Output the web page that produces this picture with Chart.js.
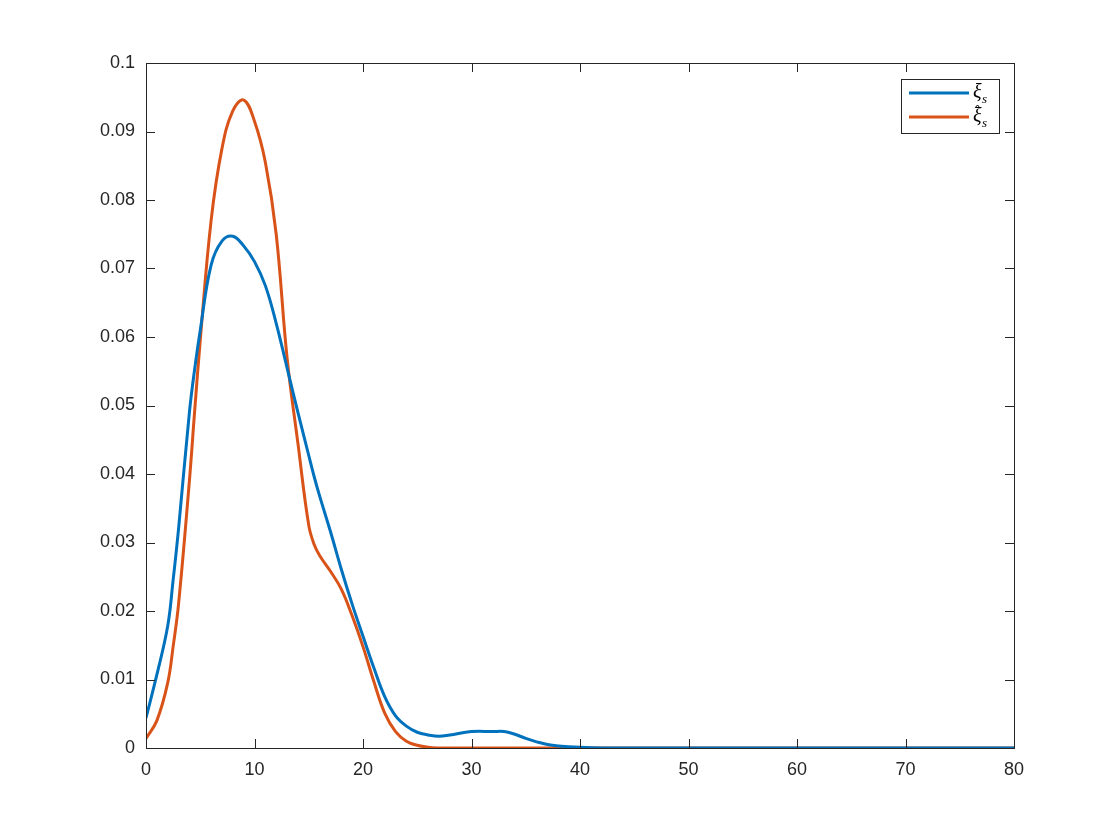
<!DOCTYPE html>
<html>
<head>
<meta charset="utf-8">
<script src="https://cdn.jsdelivr.net/npm/chart.js@4.4.0/dist/chart.umd.min.js"></script>
<style>
html,body{margin:0;padding:0;background:#fff;}
#wrap{width:1120px;height:840px;}
</style>
</head>
<body>
<div id="wrap"><canvas id="grafico" width="1120" height="840"></canvas></div>
<script>
// valori
var xs     = [0, 1, 2, 2.5, 3, 4, 4.5, 5, 6, 7, 8, 9, 10, 11, 12, 13, 14, 15, 15.5, 16, 17, 18, 19, 20, 21, 22, 23, 24, 25, 26, 27, 28, 30, 32, 33, 34, 35, 36, 37, 38, 40, 42, 45, 50, 60, 70, 80];
var xiS    = [0.0044, 0.0107, 0.0178, 0.0245, 0.032, 0.049, 0.0555, 0.061, 0.0705, 0.074, 0.0747, 0.0733, 0.071, 0.0675, 0.062, 0.0555, 0.049, 0.0427, 0.0396, 0.0368, 0.0316, 0.0261, 0.021, 0.0163, 0.0117, 0.0075, 0.0047, 0.0032, 0.0023, 0.0019, 0.0017, 0.0019, 0.0024, 0.0024, 0.0024, 0.002, 0.0014, 0.0009, 0.0005, 0.0003, 0.0001, 0, 0, 0, 0, 0, 0];
var xiHatS = [0.0014, 0.004, 0.0095, 0.0148, 0.021, 0.039, 0.0495, 0.0595, 0.077, 0.0875, 0.093, 0.0946, 0.0915, 0.0855, 0.075, 0.057, 0.0445, 0.0325, 0.0297, 0.0281, 0.0258, 0.0232, 0.0193, 0.0148, 0.0097, 0.0051, 0.0024, 0.001, 0.0004, 0.0001, 0, 0, 0, 0, 0, 0, 0, 0, 0, 0, 0, 0, 0, 0, 0, 0, 0];
var xTicks = [0, 10, 20, 30, 40, 50, 60, 70, 80];
var yTicks = [0, 0.01, 0.02, 0.03, 0.04, 0.05, 0.06, 0.07, 0.08, 0.09, 0.1];

var blu = "#0072BD";
var arancio = "#D95319";

function punti(ys) {
    var out = [];
    for (var i = 0; i < xs.length; i++) {
        out.push({x: xs[i], y: ys[i]});
    }
    return out;
}

// cornice, tacche interne e legenda stile matlab
var cornice = {
    id: "cornice",
    afterDraw: function (chart) {
        var ctx = chart.ctx;
        var a = chart.chartArea;
        var sx = chart.scales.x, sy = chart.scales.y;
        ctx.save();
        ctx.strokeStyle = "#262626";
        ctx.lineWidth = 1;
        ctx.strokeRect(a.left + 0.5, a.top + 0.5, a.right - a.left, a.bottom - a.top);
        ctx.beginPath();
        for (var i = 0; i < xTicks.length; i++) {
            var px = Math.round(sx.getPixelForValue(xTicks[i])) + 0.5;
            ctx.moveTo(px, a.bottom); ctx.lineTo(px, a.bottom - 9);
            ctx.moveTo(px, a.top); ctx.lineTo(px, a.top + 9);
        }
        for (var j = 0; j < yTicks.length; j++) {
            var py = Math.round(sy.getPixelForValue(yTicks[j])) + 0.5;
            ctx.moveTo(a.left, py); ctx.lineTo(a.left + 9, py);
            ctx.moveTo(a.right, py); ctx.lineTo(a.right - 9, py);
        }
        ctx.stroke();

        // legenda
        var bx = 901, by = 79, bw = 98, bh = 54;
        ctx.fillStyle = "#fff";
        ctx.fillRect(bx, by, bw, bh);
        ctx.strokeStyle = "#262626";
        ctx.strokeRect(bx + 0.5, by + 0.5, bw, bh);
        var righe = [93, 117];
        chart.data.datasets.forEach(function (ds, k) {
            ctx.strokeStyle = ds.borderColor;
            ctx.lineWidth = 3;
            ctx.beginPath();
            ctx.moveTo(909, righe[k]); ctx.lineTo(969, righe[k]);
            ctx.stroke();
            ctx.fillStyle = "#000";
            ctx.textBaseline = "alphabetic";
            ctx.font = "italic 20px 'Liberation Serif', 'DejaVu Serif', serif";
            ctx.fillText("\u03BE", 973, righe[k] + 5);
            ctx.font = "italic 13px 'Liberation Serif', serif";
            ctx.fillText("s", 982, righe[k] + 10);
            if (k == 1) {
                // cappello
                ctx.strokeStyle = "#000";
                ctx.lineWidth = 1;
                ctx.beginPath();
                ctx.moveTo(975, righe[k] - 9);
                ctx.lineTo(977.5, righe[k] - 12);
                ctx.lineTo(980, righe[k] - 9);
                ctx.stroke();
            }
        });
        ctx.restore();
    }
};

var ctx = document.getElementById("grafico");
var grafico = new Chart(ctx, {
    type: "line",
    data: {
        datasets: [{
            label: "\u03BEs",
            data: punti(xiS),
            borderColor: blu,
            backgroundColor: blu,
            borderWidth: 3,
            pointRadius: 0,
            tension: 0.4,
            fill: false
        }, {
            label: "\u03BEs hat",
            data: punti(xiHatS),
            borderColor: arancio,
            backgroundColor: arancio,
            borderWidth: 3,
            pointRadius: 0,
            tension: 0.4,
            fill: false
        }]
    },
    options: {
        responsive: false,
        animation: false,
        layout: {padding: {left: 0, top: 63, right: 106, bottom: 0}},
        plugins: {
            legend: {display: false},
            tooltip: {enabled: false},
            title: {display: false}
        },
        scales: {
            x: {
                type: "linear",
                min: 0,
                max: 80,
                border: {display: false},
                grid: {display: false, drawTicks: false},
                afterBuildTicks: function (s) { s.ticks = xTicks.map(function (v) { return {value: v}; }); },
                afterFit: function (s) { s.height = 92; },
                ticks: {
                    color: "#262626",
                    padding: 11,
                    maxRotation: 0,
                    font: {family: "'Liberation Sans', Arial, sans-serif", size: 18},
                    callback: function (v) { return String(v); }
                }
            },
            y: {
                type: "linear",
                min: 0,
                max: 0.1,
                border: {display: false},
                grid: {display: false, drawTicks: false},
                afterBuildTicks: function (s) { s.ticks = yTicks.map(function (v) { return {value: v}; }); },
                afterFit: function (s) { s.width = 146; },
                ticks: {
                    color: "#262626",
                    padding: 11,
                    font: {family: "'Liberation Sans', Arial, sans-serif", size: 18},
                    callback: function (v) { return String(Number(v.toFixed(2))); }
                }
            }
        }
    },
    plugins: [cornice]
});
</script>
</body>
</html>
